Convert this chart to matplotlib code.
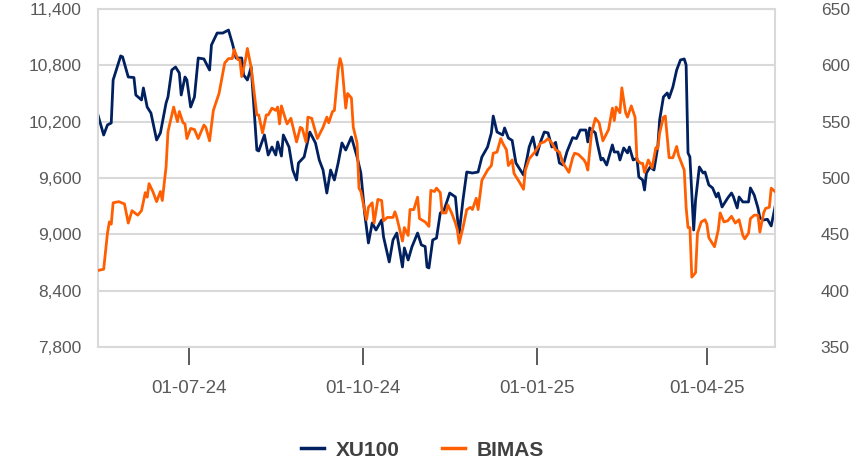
import pandas as pd
import matplotlib
matplotlib.use("Agg")
import matplotlib.pyplot as plt
import matplotlib.dates as mdates
from matplotlib.ticker import FuncFormatter, MultipleLocator

# XU100 index (left axis)
xu100_dates = [
    "2024-05-14", "2024-05-17", "2024-05-19", "2024-05-21", "2024-05-22", "2024-05-26", "2024-05-27", "2024-05-30",
    "2024-06-02", "2024-06-03", "2024-06-06", "2024-06-07", "2024-06-09", "2024-06-11", "2024-06-14", "2024-06-16",
    "2024-06-19", "2024-06-20", "2024-06-22", "2024-06-24", "2024-06-26", "2024-06-27", "2024-06-29", "2024-06-30",
    "2024-07-02", "2024-07-04", "2024-07-06", "2024-07-09", "2024-07-12", "2024-07-13", "2024-07-16", "2024-07-19",
    "2024-07-22", "2024-07-24", "2024-07-26", "2024-07-29", "2024-07-30", "2024-08-01", "2024-08-03", "2024-08-06",
    "2024-08-07", "2024-08-10", "2024-08-12", "2024-08-14", "2024-08-16", "2024-08-17", "2024-08-19", "2024-08-20",
    "2024-08-23", "2024-08-25", "2024-08-27", "2024-08-28", "2024-08-31", "2024-09-03", "2024-09-06", "2024-09-08",
    "2024-09-10", "2024-09-12", "2024-09-14", "2024-09-16", "2024-09-18", "2024-09-20", "2024-09-22", "2024-09-25",
    "2024-09-28", "2024-09-30", "2024-10-02", "2024-10-04", "2024-10-06", "2024-10-08", "2024-10-11", "2024-10-12",
    "2024-10-15", "2024-10-17", "2024-10-19", "2024-10-22", "2024-10-23", "2024-10-25", "2024-10-27", "2024-10-30",
    "2024-11-01", "2024-11-03", "2024-11-04", "2024-11-05", "2024-11-07", "2024-11-09", "2024-11-11", "2024-11-13",
    "2024-11-16", "2024-11-19", "2024-11-20", "2024-11-21", "2024-11-23", "2024-11-25", "2024-11-28", "2024-12-01",
    "2024-12-03", "2024-12-06", "2024-12-08", "2024-12-09", "2024-12-11", "2024-12-14", "2024-12-15", "2024-12-17",
    "2024-12-19", "2024-12-21", "2024-12-25", "2024-12-27", "2024-12-28", "2024-12-30", "2025-01-01", "2025-01-03",
    "2025-01-05", "2025-01-07", "2025-01-09", "2025-01-11", "2025-01-13", "2025-01-15", "2025-01-17", "2025-01-20",
    "2025-01-22", "2025-01-24", "2025-01-27", "2025-01-28", "2025-01-29", "2025-02-01", "2025-02-02", "2025-02-04",
    "2025-02-05", "2025-02-07", "2025-02-10", "2025-02-11", "2025-02-13", "2025-02-14", "2025-02-16", "2025-02-18",
    "2025-02-19", "2025-02-21", "2025-02-23", "2025-02-24", "2025-02-26", "2025-02-27", "2025-02-28", "2025-03-02",
    "2025-03-04", "2025-03-06", "2025-03-07", "2025-03-09", "2025-03-11", "2025-03-12", "2025-03-14", "2025-03-16",
    "2025-03-18", "2025-03-20", "2025-03-21", "2025-03-22", "2025-03-23", "2025-03-25", "2025-03-26", "2025-03-28",
    "2025-03-30", "2025-03-31", "2025-04-02", "2025-04-04", "2025-04-06", "2025-04-07", "2025-04-09", "2025-04-12",
    "2025-04-14", "2025-04-15", "2025-04-17", "2025-04-18", "2025-04-20", "2025-04-23", "2025-04-24", "2025-04-26",
    "2025-04-28", "2025-04-29", "2025-05-01", "2025-05-03", "2025-05-05", "2025-05-07",
]
xu100_values = [
    10270, 10058, 10165, 10186, 10644, 10900, 10890, 10676,
    10670, 10484, 10431, 10559, 10356, 10292, 10005, 10080,
    10399, 10463, 10750, 10782, 10718, 10484, 10676, 10644,
    10356, 10463, 10878, 10868, 10750, 11017, 11144, 11144,
    11176, 11038, 10878, 10878, 10697, 10644, 10782, 9898,
    9888, 10058, 9845, 9930, 9845, 9984, 9834, 10058,
    9930, 9685, 9579, 9760, 9824, 10090, 9973, 9792,
    9685, 9440, 9685, 9579, 9760, 9973, 9898, 10037,
    9824, 9653, 9227, 8908, 9121, 9046, 9153, 8972,
    8706, 8940, 9014, 8652, 8855, 8727, 8866, 9014,
    8887, 8870, 8652, 8642, 8940, 8960, 9227, 9259,
    9440, 9398, 9185, 9014, 9366, 9664, 9653, 9664,
    9824, 9930, 10080, 10260, 10090, 10058, 10133, 10026,
    10000, 9760, 9632, 9824, 9930, 10037, 9845, 9984,
    10090, 10080, 9930, 9980, 9760, 9738, 9880, 10030,
    10020, 10111, 10111, 9984, 10133, 10080, 9973, 9792,
    9810, 9738, 9952, 9877, 9877, 9792, 9920, 9867,
    9930, 9792, 9810, 9611, 9579, 9472, 9653, 9717,
    9685, 9930, 10218, 10463, 10506, 10452, 10570, 10750,
    10857, 10868, 10804, 9867, 9824, 9046, 9366, 9717,
    9653, 9664, 9526, 9494, 9398, 9440, 9291, 9387,
    9440, 9400, 9281, 9398, 9345, 9345, 9494, 9419,
    9281, 9174, 9153, 9160, 9089, 9291,
]

# BIMAS share price (right axis)
bimas_dates = [
    "2024-05-14", "2024-05-17", "2024-05-19", "2024-05-20", "2024-05-21", "2024-05-22", "2024-05-25", "2024-05-28",
    "2024-05-30", "2024-06-01", "2024-06-04", "2024-06-06", "2024-06-08", "2024-06-09", "2024-06-10", "2024-06-12",
    "2024-06-14", "2024-06-16", "2024-06-17", "2024-06-19", "2024-06-20", "2024-06-23", "2024-06-25", "2024-06-26",
    "2024-06-28", "2024-06-29", "2024-06-30", "2024-07-02", "2024-07-04", "2024-07-06", "2024-07-09", "2024-07-10",
    "2024-07-12", "2024-07-14", "2024-07-17", "2024-07-20", "2024-07-22", "2024-07-24", "2024-07-25", "2024-07-27",
    "2024-07-28", "2024-07-29", "2024-07-31", "2024-08-01", "2024-08-03", "2024-08-06", "2024-08-07", "2024-08-09",
    "2024-08-11", "2024-08-12", "2024-08-14", "2024-08-16", "2024-08-17", "2024-08-18", "2024-08-19", "2024-08-21",
    "2024-08-22", "2024-08-24", "2024-08-27", "2024-08-29", "2024-08-30", "2024-09-01", "2024-09-02", "2024-09-04",
    "2024-09-07", "2024-09-10", "2024-09-12", "2024-09-13", "2024-09-15", "2024-09-16", "2024-09-18", "2024-09-19",
    "2024-09-20", "2024-09-22", "2024-09-23", "2024-09-25", "2024-09-26", "2024-09-28", "2024-09-29", "2024-09-30",
    "2024-10-03", "2024-10-04", "2024-10-06", "2024-10-07", "2024-10-09", "2024-10-11", "2024-10-12", "2024-10-14",
    "2024-10-17", "2024-10-18", "2024-10-19", "2024-10-22", "2024-10-23", "2024-10-25", "2024-10-26", "2024-10-28",
    "2024-10-30", "2024-10-31", "2024-11-03", "2024-11-05", "2024-11-06", "2024-11-08", "2024-11-09", "2024-11-11",
    "2024-11-12", "2024-11-14", "2024-11-15", "2024-11-17", "2024-11-19", "2024-11-20", "2024-11-21", "2024-11-23",
    "2024-11-25", "2024-11-27", "2024-11-28", "2024-11-30", "2024-12-01", "2024-12-03", "2024-12-06", "2024-12-08",
    "2024-12-09", "2024-12-11", "2024-12-13", "2024-12-14", "2024-12-16", "2024-12-17", "2024-12-19", "2024-12-20",
    "2024-12-23", "2024-12-25", "2024-12-26", "2024-12-28", "2024-12-31", "2025-01-03", "2025-01-05", "2025-01-07",
    "2025-01-09", "2025-01-11", "2025-01-13", "2025-01-15", "2025-01-18", "2025-01-20", "2025-01-21", "2025-01-23",
    "2025-01-26", "2025-01-27", "2025-01-28", "2025-01-30", "2025-02-01", "2025-02-03", "2025-02-05", "2025-02-08",
    "2025-02-10", "2025-02-11", "2025-02-12", "2025-02-14", "2025-02-15", "2025-02-17", "2025-02-18", "2025-02-20",
    "2025-02-22", "2025-02-23", "2025-02-25", "2025-02-26", "2025-02-27", "2025-03-01", "2025-03-03", "2025-03-05",
    "2025-03-06", "2025-03-07", "2025-03-09", "2025-03-10", "2025-03-12", "2025-03-14", "2025-03-16", "2025-03-17",
    "2025-03-20", "2025-03-21", "2025-03-22", "2025-03-23", "2025-03-24", "2025-03-26", "2025-03-27", "2025-03-29",
    "2025-03-31", "2025-04-01", "2025-04-02", "2025-04-05", "2025-04-07", "2025-04-08", "2025-04-10", "2025-04-12",
    "2025-04-14", "2025-04-16", "2025-04-18", "2025-04-20", "2025-04-21", "2025-04-23", "2025-04-24", "2025-04-26",
    "2025-04-28", "2025-04-29", "2025-05-01", "2025-05-02", "2025-05-04", "2025-05-05", "2025-05-07",
]
bimas_values = [
    418, 419, 451, 461, 459, 478, 479, 477,
    460, 471, 467, 471, 487, 483, 495, 488,
    479, 488, 480, 510, 541, 563, 550, 559,
    549, 548, 535, 544, 543, 535, 547, 545,
    533, 560, 575, 602, 606, 606, 614, 605,
    605, 590, 605, 615, 598, 556, 556, 540,
    556, 556, 562, 560, 563, 548, 564, 553,
    548, 553, 532, 545, 544, 532, 554, 553,
    535, 545, 554, 549, 559, 560, 596, 606,
    600, 562, 575, 571, 545, 531, 491, 488,
    463, 474, 478, 460, 481, 480, 462, 465,
    465, 470, 465, 444, 456, 449, 472, 472,
    483, 464, 461, 457, 489, 488, 491, 487,
    469, 469, 476, 469, 460, 454, 442, 456,
    472, 474, 472, 482, 472, 498, 507, 511,
    522, 523, 535, 531, 525, 511, 516, 504,
    496, 490, 507, 517, 523, 531, 532, 535,
    531, 525, 523, 513, 505, 518, 522, 521,
    516, 513, 507, 540, 553, 549, 533, 543,
    562, 551, 563, 558, 580, 558, 554, 564,
    554, 516, 513, 513, 505, 516, 509, 527,
    526, 540, 554, 555, 518, 518, 528, 520,
    507, 474, 456, 456, 412, 416, 451, 461,
    463, 459, 447, 439, 454, 469, 461, 462,
    466, 460, 463, 449, 446, 451, 464, 467,
    467, 452, 469, 473, 474, 491, 488,
]

tick_dates = ["2024-07-01", "2024-10-01", "2025-01-01", "2025-04-01"]
series_names = ["XU100", "BIMAS"]

plt.rcParams['font.family'] = ['Liberation Sans', 'DejaVu Sans']

grid_col = '#d9d9d9'
text_col = '#595959'

fig = plt.figure(figsize=(8.52, 4.68), dpi=100)
ax = fig.add_axes([98 / 852, 1 - 347 / 468, 677 / 852, 338 / 468])
ax2 = ax.twinx()

l1, = ax.plot(pd.to_datetime(xu100_dates), xu100_values, color='#002060', lw=2.0)
l2, = ax2.plot(pd.to_datetime(bimas_dates), bimas_values, color='#FF5F00', lw=2.0)

ax.set_xlim(pd.Timestamp(xu100_dates[0]), pd.Timestamp(xu100_dates[-1]))
ax.set_ylim(7800, 11400)
ax.yaxis.set_major_locator(MultipleLocator(600))
ax.yaxis.set_major_formatter(FuncFormatter(lambda v, p: f"{v:,.0f}"))
ax2.set_ylim(350, 650)
ax2.yaxis.set_major_locator(MultipleLocator(50))

ax.grid(axis='y', color=grid_col, lw=1.5)
ax.set_axisbelow(True)
for s in ['left', 'right', 'bottom', 'top']:
    ax.spines[s].set_color(grid_col)
    ax.spines[s].set_linewidth(1.5)
for s in ax2.spines.values():
    s.set_visible(False)

ax.set_xticks(pd.to_datetime(tick_dates))
ax.xaxis.set_major_formatter(mdates.DateFormatter('%d-%m-%y'))
ax.tick_params(axis='x', length=13, width=1.2, color='#404040', pad=11,
               labelsize=13.5, labelcolor=text_col)
ax.tick_params(axis='y', length=0, pad=12, labelsize=12.5, labelcolor=text_col)
ax2.tick_params(axis='y', length=0, pad=33, labelsize=12.5, labelcolor=text_col)

leg = fig.legend([l1, l2], series_names, loc='center', bbox_to_anchor=(0.496, 0.038),
                 ncol=2, frameon=False, handlelength=1.1, handletextpad=0.6,
                 columnspacing=2.0, prop={'weight': 'bold', 'size': 15})
for t in leg.get_texts():
    t.set_color('#404040')
for h in leg.get_lines():
    h.set_linewidth(2.5)

fig.savefig('out.png', dpi=100)
